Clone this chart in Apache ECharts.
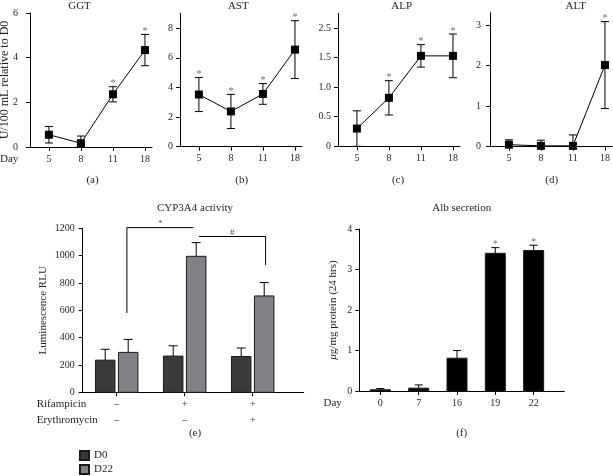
<!DOCTYPE html>
<html><head><meta charset="utf-8">
<script src="https://cdn.jsdelivr.net/npm/echarts@6/dist/echarts.min.js"></script>
<style>html,body{margin:0;padding:0;background:#fff}#c{width:613px;height:476px}</style>
</head><body><div id="c"></div>
<script>
// ---------- data ----------
const days = ['5', '8', '11', '18'];
const ggt = [0.55, 0.17, 2.36, 4.34];
const ggtErr = [0.37, 0.32, 0.34, 0.70];
const ggtSig = [0, 0, 1, 1];
const ast = [3.52, 2.38, 3.56, 6.55];
const astErr = [1.15, 1.15, 0.70, 1.95];
const astSig = [1, 1, 1, 1];
const alp = [0.30, 0.82, 1.53, 1.53];
const alpErr = [0.30, 0.29, 0.19, 0.37];
const alpSig = [0, 1, 1, 1];
const alt = [0.05, 0.02, 0.02, 2.01];
const altErr = [0.12, 0.14, 0.27, 1.07];
const altSig = [0, 0, 0, 1];
const alpTickLabels = ['0', '0.5', '1.0', '1.5', '2.5'];

const cypRowNames = ['Rifampicin', 'Erythromycin'];
const rifampicin = ['–', '+', '+'];
const erythromycin = ['–', '–', '+'];
const cypD0 = [235, 265, 262];
const cypD0Err = [80, 75, 62];
const cypD22 = [292, 995, 705];
const cypD22Err = [95, 100, 98];
const bracketStar = [[0.15, 580], [0.15, 1205], [1.13, 1205]];
const bracketStarLabel = [0.64, 1205, '*'];
const bracketHash = [[1.21, 1140], [2.19, 1140], [2.19, 930]];
const bracketHashLabel = [1.70, 1140, '#'];

const albDays = ['0', '7', '16', '19', '22'];
const alb = [0.03, 0.07, 0.81, 3.40, 3.47];
const albErr = [0.03, 0.08, 0.19, 0.14, 0.13];
const albSig = [0, 0, 0, 1, 1];

// ---------- styles ----------
const FONT = 'Liberation Serif';
const TXT = '#231f20';
const D0C = '#3a3a3c';
const D22C = '#808285';

const chart = echarts.init(document.getElementById('c'), null, {renderer: 'canvas'});

const lineStyleBlack = {color: '#000', width: 1};
function baseAxis(extra) {
  return Object.assign({
    splitLine: {show: false},
    nameMoveOverlap: false,
    axisLine: {show: true, onZero: false, lineStyle: lineStyleBlack},
    axisTick: {show: true, length: 4, lineStyle: lineStyleBlack},
    axisLabel: {color: TXT, fontFamily: FONT, fontSize: 10, margin: 7},
    nameTextStyle: {color: TXT, fontFamily: FONT, fontSize: 11}
  }, extra);
}
function merge(a, b) {
  const o = Object.assign({}, a);
  for (const k in b) {
    if (b[k] && typeof b[k] === 'object' && !Array.isArray(b[k]) && o[k] && typeof o[k] === 'object') o[k] = Object.assign({}, o[k], b[k]);
    else o[k] = b[k];
  }
  return o;
}

const grids = [
  {left: 30, top: 13, width: 122, height: 134},
  {left: 180, top: 13.3, width: 122, height: 133.4},
  {left: 338, top: 13.3, width: 122, height: 133},
  {left: 490, top: 12.7, width: 122, height: 134},
  {left: 82.7, top: 228.3, width: 221, height: 164},
  {left: 359.3, top: 229, width: 205, height: 162}
].map(g => Object.assign({containLabel: false, outerBoundsMode: 'none'}, g));

const dayIdx = days.map((d, i) => i);
const topX = k => merge(baseAxis({}), {
  type: 'value', gridIndex: k, min: -0.59, max: 3.22,
  axisTick: {customValues: dayIdx},
  axisLabel: {customValues: dayIdx, formatter: v => days[Math.round(v)]}
});

const xAxes = [topX(0), topX(1), topX(2), topX(3),
  merge(baseAxis({}), {
    type: 'value', gridIndex: 4, min: -0.5, max: 2.75,
    axisTick: {customValues: [0, 1, 2], length: 4},
    axisLabel: {customValues: [0, 1, 2], margin: 4, lineHeight: 16, fontSize: 10,
      formatter: v => rifampicin[Math.round(v)] + '\n' + erythromycin[Math.round(v)]}
  }),
  merge(baseAxis({}), {
    type: 'value', gridIndex: 5, min: -0.55, max: 4.8,
    axisTick: {customValues: albDays.map((d, i) => i)},
    axisLabel: {customValues: albDays.map((d, i) => i), formatter: v => albDays[Math.round(v)]}
  })
];

const plain = v => String(v);
const yAxes = [
  merge(baseAxis({}), {type: 'value', gridIndex: 0, min: 0, max: 6, interval: 2,
    axisLabel: {margin: 12, formatter: plain},
    name: 'U/100 mL relative to D0', nameLocation: 'middle', nameRotate: 90, nameGap: 19,
    nameTextStyle: {fontSize: 12}}),
  merge(baseAxis({}), {type: 'value', gridIndex: 1, min: 0, max: 9,
    axisTick: {customValues: [0, 2, 4, 6, 8]},
    axisLabel: {customValues: [0, 2, 4, 6, 8], margin: 7, formatter: plain}}),
  merge(baseAxis({}), {type: 'value', gridIndex: 2, min: 0, max: 2.25,
    axisTick: {customValues: [0, 0.5, 1, 1.5, 2]},
    axisLabel: {customValues: [0, 0.5, 1, 1.5, 2], margin: 7,
      formatter: v => alpTickLabels[Math.round(v * 2)]}}),
  merge(baseAxis({}), {type: 'value', gridIndex: 3, min: 0, max: 3.3,
    axisTick: {customValues: [0, 1, 2, 3]},
    axisLabel: {customValues: [0, 1, 2, 3], margin: 9, formatter: plain}}),
  merge(baseAxis({}), {type: 'value', gridIndex: 4, min: 0, max: 1200, interval: 200,
    axisLabel: {margin: 8, formatter: plain},
    name: 'Luminescence RLU', nameLocation: 'middle', nameRotate: 90, nameGap: 34}),
  merge(baseAxis({}), {type: 'value', gridIndex: 5, min: 0, max: 4, interval: 1,
    axisLabel: {margin: 7, formatter: plain},
    name: '{i|μ}g/mg protein (24 hrs)', nameLocation: 'middle', nameRotate: 90, nameGap: 20.5,
    nameTextStyle: {rich: {i: {fontStyle: 'italic', fontFamily: FONT, fontSize: 11, color: TXT}}}})
];

function errItem(params, api) {
  const x = api.value(0), v = api.value(1), e = api.value(2), s = api.value(3);
  const top = api.coord([x, v + e]);
  const bot = api.coord([x, Math.max(0, v - e)]);
  const cw = 4;
  const st = {stroke: '#000', lineWidth: 1};
  const ch = [
    {type: 'line', shape: {x1: top[0], y1: top[1], x2: bot[0], y2: bot[1]}, style: st},
    {type: 'line', shape: {x1: top[0] - cw, y1: top[1], x2: top[0] + cw, y2: top[1]}, style: st},
    {type: 'line', shape: {x1: bot[0] - cw, y1: bot[1], x2: bot[0] + cw, y2: bot[1]}, style: st}
  ];
  if (s) ch.push({type: 'text', x: top[0], y: top[1] - 3,
    style: {text: '*', fill: '#6d6e70', fontSize: 10, fontFamily: FONT, align: 'center', verticalAlign: 'middle'}});
  return {type: 'group', children: ch};
}

function barItemFactory(offset, width, fill, cap) {
  return function (params, api) {
    const x = api.value(0), v = api.value(1), e = api.value(2), s = api.value(3);
    const base = api.coord([x, 0]);
    const top = api.coord([x, v]);
    const et = api.coord([x, v + e]);
    const cx = base[0] + offset;
    const st = {stroke: '#000', lineWidth: 1};
    const ch = [
      {type: 'line', shape: {x1: cx, y1: top[1], x2: cx, y2: et[1]}, style: st},
      {type: 'line', shape: {x1: cx - cap, y1: et[1], x2: cx + cap, y2: et[1]}, style: st},
      {type: 'rect', shape: {x: cx - width / 2, y: top[1], width: width, height: base[1] - top[1]},
        style: {fill: fill, stroke: '#1a1a1a', lineWidth: 1}}
    ];
    if (s) ch.push({type: 'text', x: cx, y: et[1] - 3,
      style: {text: '*', fill: '#6d6e70', fontSize: 10, fontFamily: FONT, align: 'center', verticalAlign: 'middle'}});
    return {type: 'group', children: ch};
  };
}

function bracketItem(pts, lab) {
  return function (params, api) {
    const p = pts.map(q => api.coord(q));
    const lp = api.coord([lab[0], lab[1]]);
    return {type: 'group', children: [
      {type: 'polyline', shape: {points: p}, style: {stroke: '#000', lineWidth: 1, fill: null}},
      {type: 'text', x: lp[0], y: lp[1] - 4,
        style: {text: lab[2], fill: '#555', fontSize: 9, fontFamily: FONT, align: 'center', verticalAlign: 'middle'}}
    ]};
  };
}

const topSets = [[ggt, ggtErr, ggtSig], [ast, astErr, astSig], [alp, alpErr, alpSig], [alt, altErr, altSig]];
const series = [];
topSets.forEach((set, k) => {
  series.push({
    type: 'custom', xAxisIndex: k, yAxisIndex: k, z: 2, silent: true,
    data: set[0].map((v, i) => [i, v, set[1][i], set[2][i]]),
    renderItem: errItem, encode: {x: 0, y: 1}
  });
  series.push({
    type: 'line', xAxisIndex: k, yAxisIndex: k, z: 3, silent: true,
    data: set[0].map((v, i) => [i, v]),
    symbol: 'rect', symbolSize: 8,
    itemStyle: {color: '#000'}, lineStyle: {color: '#000', width: 1},
    animation: false
  });
});
series.push({
  name: 'D0', type: 'custom', xAxisIndex: 4, yAxisIndex: 4, silent: true,
  itemStyle: {color: D0C, borderColor: '#1a1a1a', borderWidth: 1},
  data: cypD0.map((v, i) => [i, v, cypD0Err[i], 0]),
  renderItem: barItemFactory(-11.5, 19.5, D0C, 4.5), encode: {x: 0, y: 1}
});
series.push({
  name: 'D22', type: 'custom', xAxisIndex: 4, yAxisIndex: 4, silent: true,
  itemStyle: {color: D22C, borderColor: '#1a1a1a', borderWidth: 1},
  data: cypD22.map((v, i) => [i, v, cypD22Err[i], 0]),
  renderItem: barItemFactory(11.5, 19.5, D22C, 4.5), encode: {x: 0, y: 1}
});
series.push({
  type: 'custom', xAxisIndex: 4, yAxisIndex: 4, silent: true, data: [[0, 0]],
  renderItem: bracketItem(bracketStar, bracketStarLabel), encode: {x: 0, y: 1}
});
series.push({
  type: 'custom', xAxisIndex: 4, yAxisIndex: 4, silent: true, data: [[0, 0]],
  renderItem: bracketItem(bracketHash, bracketHashLabel), encode: {x: 0, y: 1}
});
series.push({
  type: 'custom', xAxisIndex: 5, yAxisIndex: 5, silent: true,
  data: alb.map((v, i) => [i, v, albErr[i], albSig[i]]),
  renderItem: barItemFactory(0, 20, '#000', 4), encode: {x: 0, y: 1}
});

function txt(text, x, y, opts) {
  return {type: 'text', x: x, y: y, silent: true,
    style: Object.assign({text: text, fill: TXT, fontFamily: FONT, fontSize: 11, align: 'center', verticalAlign: 'middle'}, opts || {})};
}

const graphics = [
  txt('GGT', 79.5, 6), txt('AST', 238.3, 6), txt('ALP', 401.7, 6), txt('ALT', 575.8, 6),
  txt('Day', 0, 159, {align: 'left'}),
  txt('(a)', 92.5, 180), txt('(b)', 241.7, 180), txt('(c)', 398, 180), txt('(d)', 551.7, 180),
  txt('CYP3A4 activity', 195, 208), txt('Alb secretion', 461.7, 207.7),
  txt(cypRowNames[0], 36.7, 404, {align: 'left'}), txt(cypRowNames[1], 36.7, 420, {align: 'left'}),
  txt('(e)', 195, 433), txt('(f)', 461.7, 433.3),
  txt('Day', 332.7, 403.3)
];

const legendBase = {
  orient: 'vertical', left: 79, icon: 'rect',
  itemWidth: 9, itemHeight: 9, itemGap: 5, padding: 0,
  textStyle: {color: TXT, fontFamily: FONT, fontSize: 11}, selectedMode: false
};

chart.setOption({
  animation: false,
  backgroundColor: '#fff',
  grid: grids,
  xAxis: xAxes,
  yAxis: yAxes,
  legend: [
    Object.assign({data: ['D0'], top: 450}, legendBase),
    Object.assign({data: ['D22'], top: 464}, legendBase)
  ],
  graphic: graphics,
  series: series
});
</script></body></html>
